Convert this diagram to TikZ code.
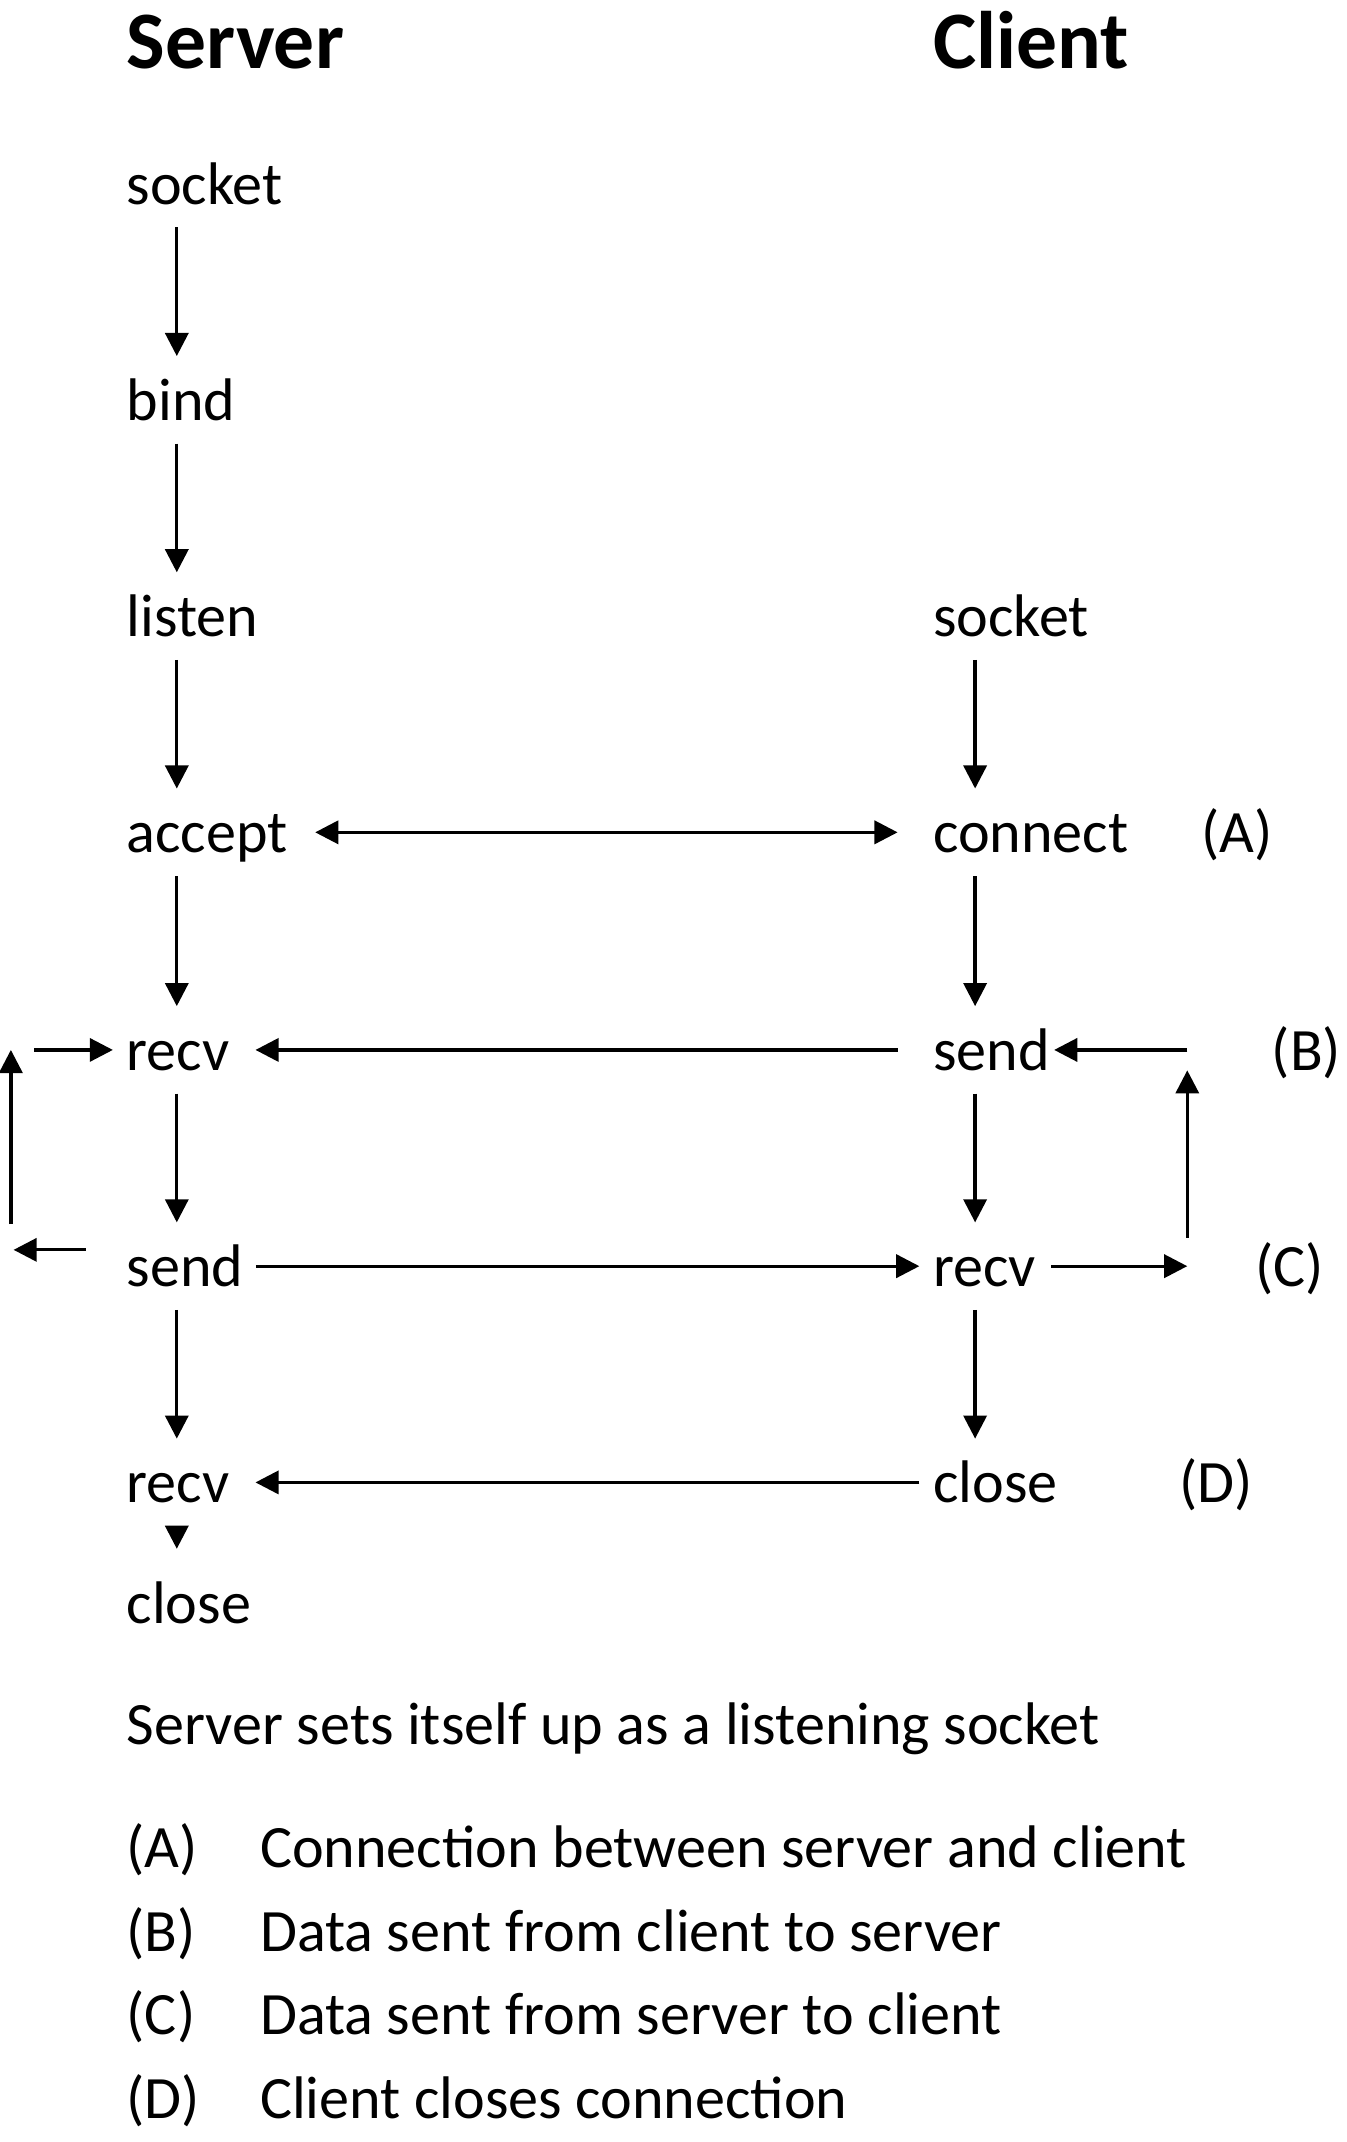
\documentclass[tikz,border=0pt]{standalone}
\usepackage{fontspec}
\setmainfont{Carlito}
\usetikzlibrary{arrows.meta}

\tikzset{
	call/.style={anchor=base west,inner sep=0pt,text height=23pt,text depth=8pt,font=\fontsize{22.1}{26}\selectfont},
	head/.style={anchor=base west,inner sep=0pt,font=\fontsize{30}{36}\selectfont\bfseries},
	note/.style={anchor=base west,inner sep=0pt,font=\fontsize{22.1}{26}\selectfont},
	>={Triangle[length=8.5pt,width=8.5pt]},
	every path/.style={line width=1.2pt}
}

\begin{document}
\begin{tikzpicture}[x=0.5pt,y=-0.5pt]

			\useasboundingbox (0,0) rectangle (990,1575);

			\node[head] (server) at (92,50) {Server};
			\node[head] (client) at (685,50) {Client};

			\node[call] (ssock) at (92,150) {socket};
			\node[call] (sbind) at (92,309) {bind};
			\node[call] (slisten) at (92,468) {listen};
			\node[call] (saccept) at (92,627) {accept};
			\node[call] (srecv) at (92,787) {recv};
			\node[call] (ssend) at (92,946) {send};
			\node[call] (srecvb) at (92,1105) {recv};
			\node[call] (sclose) at (92,1194) {close};

			\node[call] (csock) at (685,468) {socket};
			\node[call] (cconn) at (685,627) {connect};
			\node[call] (csend) at (685,787) {send};
			\node[call] (crecv) at (685,946) {recv};
			\node[call] (cclose) at (685,1105) {close};

			\node[note] (la) at (882,627) {(A)};
			\node[note] (lb) at (934,787) {(B)};
			\node[note] (lc) at (922,946) {(C)};
			\node[note] (ld) at (866,1105) {(D)};

			\coordinate (scol) at (130,0);
			\coordinate (ccol) at (717,0);
			\coordinate (rbot) at (873,931);
			\coordinate (rtop) at (873,772);
			\coordinate (lbot) at (8,919);
			\coordinate (ltop) at (8,772);

			% server side
			\path[->,draw] (scol |- ssock.south) -- (scol |- sbind.north);
			\path[->,draw] (scol |- sbind.south) -- (scol |- slisten.north);
			\path[->,draw] (scol |- slisten.south) -- (scol |- saccept.north);
			\path[->,draw] (scol |- saccept.south) -- (scol |- srecv.north);
			\path[->,draw] (scol |- srecv.south) -- (scol |- ssend.north);
			\path[->,draw] (scol |- ssend.south) -- (scol |- srecvb.north);
			\path[->,draw,shorten >=4pt] (scol |- srecvb.south) -- (scol |- sclose.north);

			% client side
			\path[->,draw] (ccol |- csock.south) -- (ccol |- cconn.north);
			\path[->,draw] (ccol |- cconn.south) -- (ccol |- csend.north);
			\path[->,draw] (ccol |- csend.south) -- (ccol |- crecv.north);
			\path[->,draw] (ccol |- crecv.south) -- (ccol |- cclose.north);

			% between them
			\path[<->,draw,shorten <=9.5pt,shorten >=12.5pt] (saccept.east) -- (cconn.west);
			\path[->,draw,shorten <=12.5pt,shorten >=9pt] (csend.west) -- (srecv.east);
			\path[->,draw,shorten <=4pt,shorten >=4.5pt] (ssend.east) -- (crecv.west);
			\path[->,draw,shorten <=4.5pt,shorten >=9pt] (cclose.west) -- (srecvb.east);

			% loops
			\path[->,draw,shorten <=5pt] (crecv.east) -- (rbot);
			\path[->,draw,shorten <=10.5pt,shorten >=7.5pt] (rbot) -- (rtop);
			\path[->,draw,shorten >=1pt] (rtop) -- (csend.east);
			\path[->,draw,shorten <=14.5pt,shorten >=1pt] ([yshift=6pt]ssend.west) -- (lbot);
			\path[->,draw,shorten <=9.5pt] (lbot) -- (ltop);
			\path[->,draw,shorten <=8.5pt,shorten >=4.5pt] (ltop) -- (srecv.west);

			\node[note] (setup) at (92,1283) {Server sets itself up as a listening socket};

			\node[note] (ka) at (92,1373) {(A)};
			\node[note] (kb) at (92,1435) {(B)};
			\node[note] (kc) at (92,1496) {(C)};
			\node[note] (kd) at (92,1558) {(D)};
			\node[note] (ta) at (190,1373) {Connection between server and client};
			\node[note] (tb) at (190,1435) {Data sent from client to server};
			\node[note] (tc) at (190,1496) {Data sent from server to client};
			\node[note] (td) at (190,1558) {Client closes connection};

		\end{tikzpicture}
\end{document}
